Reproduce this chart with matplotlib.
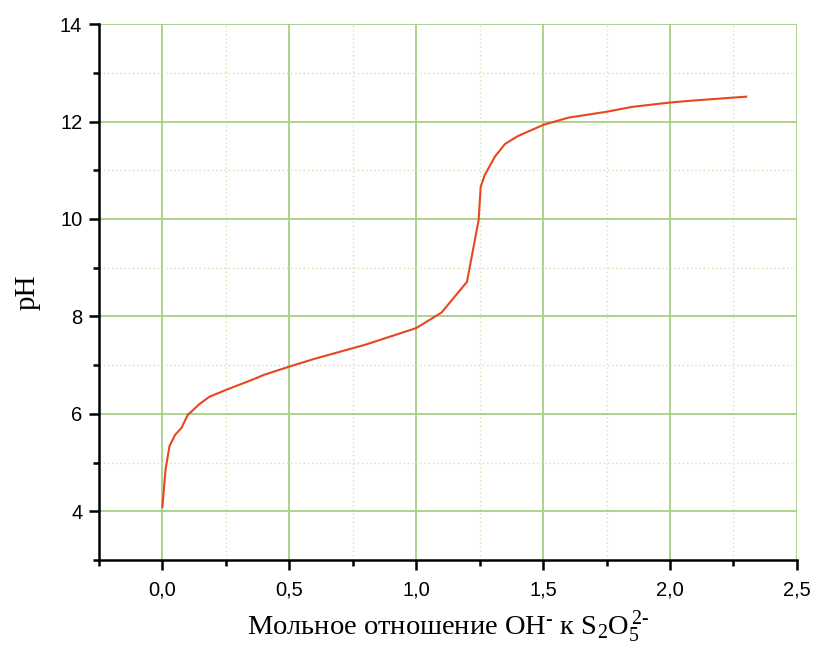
import matplotlib
matplotlib.use("Agg")
import matplotlib.pyplot as plt
from matplotlib.ticker import MultipleLocator, FuncFormatter

# titration curve: molar ratio OH- / S2O5(2-) vs pH
ratio = [0.0, 0.012, 0.028, 0.05, 0.075, 0.10, 0.146, 0.185, 0.25, 0.354,
         0.40, 0.50, 0.60, 0.80, 1.00, 1.10, 1.20, 1.246, 1.254, 1.27,
         1.31, 1.35, 1.40, 1.50, 1.60, 1.75, 1.85, 2.00, 2.09, 2.30]
ph = [4.09, 4.85, 5.34, 5.57, 5.71, 5.98, 6.20, 6.35, 6.49, 6.70,
      6.80, 6.97, 7.13, 7.42, 7.76, 8.08, 8.71, 9.98, 10.66, 10.90,
      11.28, 11.54, 11.70, 11.93, 12.08, 12.20, 12.30, 12.39, 12.43, 12.51]

plt.rcParams["mathtext.fontset"] = "custom"
plt.rcParams["mathtext.rm"] = "Liberation Serif"
plt.rcParams["mathtext.default"] = "regular"

fig = plt.figure(figsize=(8.14, 6.51), dpi=100)
ax = fig.add_axes([0.1216, 0.1398, 0.979 - 0.1216, 0.963 - 0.1398])

ax.plot(ratio, ph, color="#e8461e", lw=1.5, zorder=3)

ax.set_xlim(-0.25, 2.5)
ax.set_ylim(3, 14)
ax.xaxis.set_major_locator(MultipleLocator(0.5))
ax.xaxis.set_minor_locator(MultipleLocator(0.25))
ax.yaxis.set_major_locator(MultipleLocator(2))
ax.yaxis.set_minor_locator(MultipleLocator(1))
ax.xaxis.set_major_formatter(FuncFormatter(lambda v, p: f"{v:.1f}".replace(".", ",")))
ax.yaxis.set_major_formatter(FuncFormatter(lambda v, p: f"{v:.0f}"))

ax.grid(which="major", color="#a6cf86", lw=1.3, ls="-")
ax.grid(which="minor", color="#cfe3b8", lw=1.0, ls=(0, (1, 2)))
for gl in ax.get_ygridlines():
    if abs(gl.get_ydata()[0] - 14) < 1e-6:
        gl.set_visible(False)
for gl in ax.get_xgridlines():
    if abs(gl.get_xdata()[0] - 2.5) < 1e-6:
        gl.set_visible(False)
ax.set_axisbelow(True)

for s in ["top", "right"]:
    ax.spines[s].set_visible(False)
for s in ["left", "bottom"]:
    ax.spines[s].set_linewidth(1.8)

ax.tick_params(which="major", direction="out", length=7.5, width=1.8,
               labelsize=14.5)
ax.tick_params(which="minor", direction="out", length=4, width=1.8)
ax.tick_params(axis="x", which="major", pad=7.5)
ax.tick_params(axis="y", which="major", pad=4.5)
for lab in ax.get_xticklabels() + ax.get_yticklabels():
    lab.set_fontfamily("Liberation Sans")

ax.set_xlabel(r"Мольное отношение OH$^{\text{-}}$ к S$_{2}$O$_{5}^{\,\text{2-}}$",
              fontfamily="Liberation Serif", fontsize=20.5, labelpad=7)
ax.set_ylabel("pH", fontfamily="Liberation Serif", fontsize=21, labelpad=14)

fig.savefig("out.png", dpi=100)
